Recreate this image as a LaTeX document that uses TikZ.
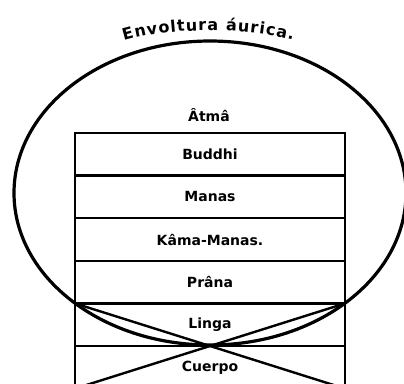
\documentclass[tikz,border=0pt]{standalone}
\usepackage{fontspec}
\setmainfont{DejaVu Sans}
\usetikzlibrary{positioning,decorations.text}

\begin{document}
\begin{tikzpicture}[x=1pt, y=-1pt,
  capa/.style={draw, line width=2.4pt, outer sep=0pt, minimum width=270pt,
    minimum height=42.6pt, inner sep=0pt, font=\bfseries\fontsize{14}{16}\selectfont},
  rotulo/.style={font=\bfseries\fontsize{14}{16}\selectfont}]
\useasboundingbox (0,0) rectangle (404,383);
\clip (0,0) rectangle (404,383);
% capas del cuerpo
\node[capa, anchor=north] (buddhi) at (210,133) {Buddhi};
\node[capa, below=0pt of buddhi] (manas) {Manas};
\node[capa, below=0pt of manas] (kama) {Kâma-Manas.};
\node[capa, below=0pt of kama] (prana) {Prâna};
\node[capa, below=0pt of prana] (linga) {Linga};
\node[capa, below=0pt of linga] (cuerpo) {Cuerpo};
\node[rotulo] (atma) at (209,115) {Âtmâ};
% envoltura
\draw[line width=3.2pt] (210,193) ellipse [x radius=196, y radius=152];
\draw[line width=2.4pt] (linga.north west) -- (cuerpo.south east);
\draw[line width=2.4pt] (linga.north east) -- (cuerpo.south west);
\path[decorate, decoration={text along path, text align={fit to path},
  text={|\bfseries\fontsize{16}{18}\selectfont|Envoltura áurica.}}]
  (124,41) .. controls (170,27) and (245,27) .. (293,40);
\end{tikzpicture}
\end{document}
